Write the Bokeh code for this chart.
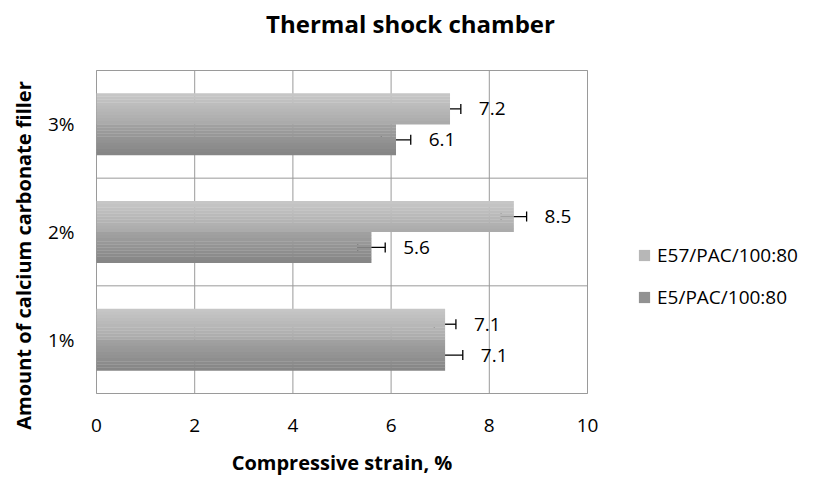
import math
from bokeh.plotting import figure
from bokeh.models import (ColumnDataSource, Range1d, Whisker, TeeHead, Label,
                          Legend, LegendItem, FixedTicker)
from bokeh.transform import dodge
from bokeh.core.properties import value
from bokeh.embed import file_html
from bokeh.resources import INLINE

# ---- data ----
categories = ["1%", "2%", "3%"]
series_names = ["E57/PAC/100:80", "E5/PAC/100:80"]
e57_values = [7.1, 8.5, 7.2]
e57_errors = [0.22, 0.26, 0.22]
e5_values = [7.1, 5.6, 6.1]
e5_errors = [0.36, 0.28, 0.30]
x_ticks = [0, 2, 4, 6, 8, 10]

title_text = "Thermal shock chamber"
x_title = "Compressive strain, %"
y_title = "Amount of calcium carbonate filler"

FONT = "Open Sans"
GRID = "#9a9a9a"

# ---- layout (pixels): the frame covers the whole canvas ----
W, H = 820, 477
AREA_L, AREA_B = 96, 393             # plot area left / bottom on the canvas
AREA_W, AREA_H = 491, 323            # plot area size
n = len(categories)
px_x = AREA_W / (x_ticks[-1] - x_ticks[0])
px_y = AREA_H / n
x_start = x_ticks[0] - AREA_L / px_x
x_end = x_start + W / px_x
y_start = -(H - AREA_B) / px_y
y_end = y_start + H / px_y

pos = [i + 0.5 for i in range(n)]

p = figure(width=W, height=H, output_backend="svg", toolbar_location=None,
           x_range=Range1d(x_start, x_end), y_range=Range1d(y_start, y_end),
           min_border_left=0, min_border_right=0, min_border_top=0, min_border_bottom=0)
p.outline_line_color = None
p.background_fill_color = "white"
p.border_fill_color = "white"
p.xgrid.grid_line_color = None
p.ygrid.grid_line_color = None

# plot-area border, vertical grid and category separators
p.quad(left=[x_ticks[0]], right=[x_ticks[-1]], bottom=[0], top=[n],
       fill_color=None, line_color=GRID, line_width=1, level="underlay")
p.segment(x0=x_ticks, x1=x_ticks, y0=[0] * len(x_ticks), y1=[n] * len(x_ticks),
          line_color=GRID, line_width=1, level="underlay")
seps = list(range(1, n))
p.segment(x0=[x_ticks[0]] * len(seps), x1=[x_ticks[-1]] * len(seps), y0=seps, y1=seps,
          line_color=GRID, line_width=1, level="underlay")

bar_h = 0.287
N = 10
series = [
    (e57_values, e57_errors, +bar_h / 2, ("#c8c8c8", "#a9a9a9")),
    (e5_values, e5_errors, -bar_h / 2, ("#a2a2a2", "#848484")),
]

def lerp_color(c0, c1, t):
    a = [int(c0[i:i + 2], 16) for i in (1, 3, 5)]
    b = [int(c1[i:i + 2], 16) for i in (1, 3, 5)]
    return "#" + "".join(f"{round(a[k] + (b[k] - a[k]) * t):02x}" for k in range(3))

legend_renderers = []
for vals, errs, off, (ctop, cbot) in series:
    src = ColumnDataSource(dict(pos=pos, val=vals,
                                lo=[v - e for v, e in zip(vals, errs)],
                                hi=[v + e for v, e in zip(vals, errs)],
                                lab=[f"{v:.1f}" for v in vals]))
    mid = None
    for i in range(N):
        t = (i + 0.5) / N
        o = off + bar_h / 2 - t * bar_h
        r = p.hbar(y=dodge("pos", o), right="val", left=0,
                   height=bar_h / N * 1.08, source=src,
                   fill_color=lerp_color(ctop, cbot, t), line_color=None)
        if i == N // 2:
            mid = r
    legend_renderers.append(mid)
    w = Whisker(source=src, base=dodge("pos", off), lower="lo", upper="hi",
                dimension="width", line_color="black", line_width=1.3,
                upper_head=TeeHead(size=10, line_color="black", line_width=1.3),
                lower_head=TeeHead(size=10, line_color="black", line_width=1.3))
    p.add_layout(w)
    p.text(x="hi", y=dodge("pos", off), text="lab", source=src,
           x_offset=18, text_align="left", text_baseline="middle",
           text_font=value(FONT), text_font_size="19px", text_color="black")

# axes, pinned to the plot-area edges
p.xaxis.ticker = FixedTicker(ticks=x_ticks)
p.yaxis.ticker = FixedTicker(ticks=pos)
p.yaxis.major_label_overrides = {y: c for y, c in zip(pos, categories)}
p.xaxis.fixed_location = 0
p.yaxis.fixed_location = x_ticks[0]
for ax in (p.xaxis[0], p.yaxis[0]):
    ax.axis_line_color = None
    ax.major_tick_line_color = None
    ax.minor_tick_line_color = None
    ax.major_tick_out = 0
    ax.major_tick_in = 0
    ax.minor_tick_out = 0
    ax.minor_tick_in = 0
    ax.major_label_text_font = FONT
    ax.major_label_text_font_size = "19px"
    ax.major_label_text_color = "black"
p.xaxis.major_label_standoff = 25
p.yaxis.major_label_standoff = 22

# titles (canvas screen positions, y measured from the bottom)
p.add_layout(Label(x=410, y=454, x_units="screen", y_units="screen", text=title_text,
                   text_font=FONT, text_font_size="24px", text_font_style="bold",
                   text_align="center", text_baseline="middle", text_color="black"))
p.add_layout(Label(x=AREA_L + AREA_W / 2, y=15, x_units="screen", y_units="screen",
                   text=x_title, text_font=FONT, text_font_size="20px",
                   text_font_style="bold", text_align="center", text_baseline="middle",
                   text_color="black"))
p.add_layout(Label(x=23, y=222, x_units="screen", y_units="screen", text=y_title,
                   angle=math.pi / 2, text_font=FONT, text_font_size="20px",
                   text_font_style="bold", text_align="center", text_baseline="middle",
                   text_color="black"))

legend = Legend(items=[LegendItem(label=series_names[0], renderers=[legend_renderers[0]]),
                       LegendItem(label=series_names[1], renderers=[legend_renderers[1]])],
                location=(637, 167), orientation="vertical",
                glyph_width=14, glyph_height=14, label_height=24, spacing=16,
                padding=0, margin=0, label_standoff=6,
                label_text_font=FONT, label_text_font_size="19px", label_text_color="black",
                border_line_color=None, background_fill_alpha=0)
p.add_layout(legend)

open("out.html", "w").write(file_html(p, INLINE))
